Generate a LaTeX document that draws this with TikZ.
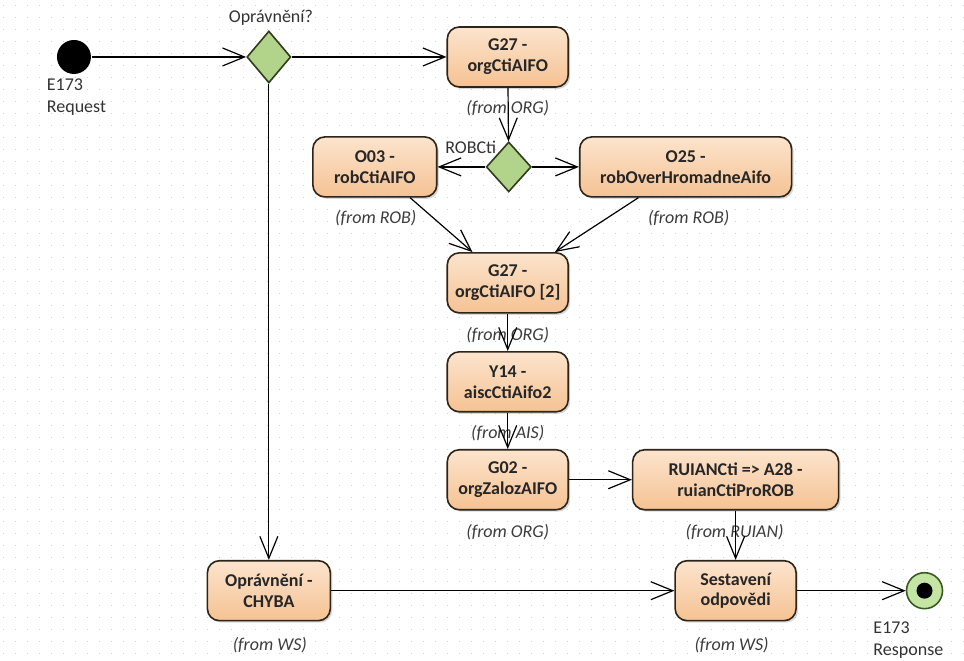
\documentclass[tikz,border=0pt]{standalone}
\usepackage{fontspec}
\setmainfont{Carlito}
\usetikzlibrary{arrows.meta,shapes.geometric,shadows}
\definecolor{boxtop}{HTML}{FCE4CD}
\definecolor{boxbot}{HTML}{F5C293}
\definecolor{boxline}{HTML}{2E2418}
\definecolor{decfill}{HTML}{B2D38A}
\definecolor{decline}{HTML}{2F3D1E}
\definecolor{endfill}{HTML}{C5E5A5}
\definecolor{endline}{HTML}{3A5A25}
\definecolor{gridc}{HTML}{D2D2D2}
\definecolor{fromc}{HTML}{3C3C3C}
\begin{document}
\begin{tikzpicture}[x=1pt, y=-1pt, >={Straight Barb[length=22pt,width=18pt]}, line width=1.2pt,
  act/.style={draw=boxline, line width=1.6pt, rounded corners=12pt, top color=boxtop, bottom color=boxbot,
    minimum width=121pt, minimum height=60pt, align=center, inner sep=2pt, text=black!85,
    font=\fontsize{18}{21}\selectfont\bfseries, drop shadow={shadow xshift=2pt, shadow yshift=-2pt, opacity=.3}},
  decision/.style={diamond, draw=decline, line width=1.6pt, fill=decfill, minimum width=44pt, minimum height=52pt, inner sep=0pt},
  fromlbl/.style={font=\fontsize{18}{21}\selectfont\itshape, text=fromc},
  lbl/.style={font=\fontsize{18}{22}\selectfont, text=black!80, align=left}]

\fill[white] (0,0) rectangle (964,661);
\foreach \gy in {6,18,...,658}
  \draw[gridc, line width=1pt, dash pattern=on 1pt off 11pt] (3,\gy) -- (964,\gy);
\useasboundingbox (0,0) rectangle (964,661);

\node[circle, fill=black, minimum size=34pt, inner sep=0pt] (start) at (74,57) {};
\node[lbl, anchor=west] (startlbl) at (43,97) {E173\\Request};

\node[decision] (perm) at (269,57) {};
\node[lbl] (permlbl) at (271,18) {Oprávnění?};

\node[act] (g27) at (508,57) {G27 -\\orgCtiAIFO};
\node[fromlbl] (g27from) at (508,108) {(from ORG)};

\node[decision, minimum width=45pt, minimum height=50pt] (robcti) at (509,167) {};
\node[lbl] (robctilbl) at (471,147) {ROBCti};

\node[act, minimum width=124pt] (o03) at (375,167) {O03 -\\robCtiAIFO};
\node[fromlbl] (o03from) at (376,218) {(from ROB)};

\node[act, minimum width=212pt] (o25) at (686,167) {O25 -\\robOverHromadneAifo};
\node[fromlbl] (o25from) at (689,218) {(from ROB)};

\node[act] (g27b) at (508,283) {G27 -\\orgCtiAIFO [2]};
\node[fromlbl] (g27bfrom) at (508,335) {(from ORG)};

\node[act] (y14) at (508,382) {Y14 -\\aiscCtiAifo2};
\node[fromlbl] (y14from) at (508,433) {(from AIS)};

\node[act] (g02) at (508,480) {G02 -\\orgZalozAIFO};
\node[fromlbl] (g02from) at (508,532) {(from ORG)};

\node[act, minimum width=206pt] (ruian) at (736,480) {RUIANCti => A28 -\\ruianCtiProROB};
\node[fromlbl] (ruianfrom) at (735,532) {(from RUIAN)};

\node[act, minimum width=123pt] (chyba) at (269,591) {Oprávnění -\\CHYBA};
\node[fromlbl] (chybafrom) at (270,645) {(from WS)};

\node[act] (sest) at (736,591) {Sestavení\\odpovědi};
\node[fromlbl] (sestfrom) at (732,645) {(from WS)};

\node[circle, draw=endline, line width=1.6pt, fill=endfill, minimum size=36pt, inner sep=0pt] (stop) at (925,591) {};
\node[circle, fill=black, minimum size=16pt, inner sep=0pt] (stopdot) at (stop) {};
\node[lbl, anchor=west] (stoplbl) at (870,640) {E173\\Response};

\draw[->] (start) -- (perm);
\draw[->] (perm) -- (g27);
\draw[->] (perm) -- (chyba);
\draw[->] (g27) -- (robcti);
\draw[->] (robcti) -- (o03);
\draw[->] (robcti) -- (o25);
\draw[->] (o03) -- (g27b);
\draw[->] (o25) -- (g27b);
\draw[->] (g27b) -- (y14);
\draw[->] (y14) -- (g02);
\draw[->] (g02) -- (ruian);
\draw[->] (ruian) -- (sest);
\draw[->] (chyba) -- (sest);
\draw[->] (sest) -- (stop);
\end{tikzpicture}
\end{document}
